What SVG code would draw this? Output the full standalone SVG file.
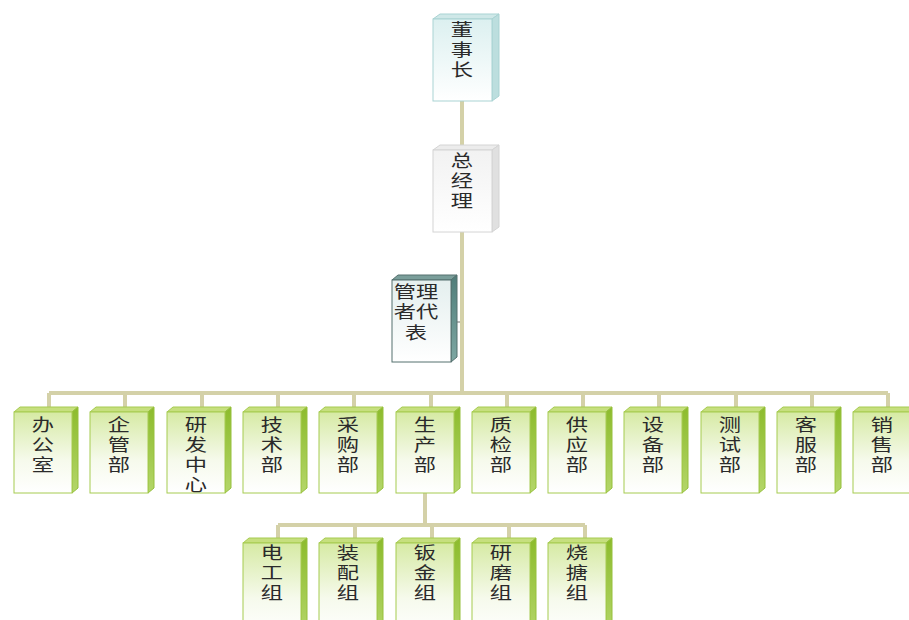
<svg xmlns="http://www.w3.org/2000/svg" width="909" height="620" viewBox="0 0 909 620">
<defs>
<linearGradient id="gf" x1="0" y1="0" x2="0" y2="1"><stop offset="0" stop-color="#d6eaa4"/><stop offset="0.6" stop-color="#f6faec"/><stop offset="1" stop-color="#ffffff"/></linearGradient>
<linearGradient id="gs" x1="0" y1="0" x2="0" y2="1"><stop offset="0" stop-color="#8cbb2c"/><stop offset="1" stop-color="#b4d66a"/></linearGradient>
<linearGradient id="cf" x1="0" y1="0" x2="0" y2="1"><stop offset="0" stop-color="#dcf0f0"/><stop offset="1" stop-color="#ffffff"/></linearGradient>
<linearGradient id="wf" x1="0" y1="0" x2="0" y2="1"><stop offset="0" stop-color="#f2f2f2"/><stop offset="1" stop-color="#ffffff"/></linearGradient>
<linearGradient id="tf" x1="0" y1="0" x2="0" y2="1"><stop offset="0" stop-color="#e4efee"/><stop offset="1" stop-color="#ffffff"/></linearGradient>
<linearGradient id="ts" x1="0" y1="0" x2="0" y2="1"><stop offset="0" stop-color="#4f7d79"/><stop offset="1" stop-color="#7ea7a3"/></linearGradient>
</defs>
<style>
.t{font-family:"Noto Sans CJK SC","Noto Sans",sans-serif;font-size:16.5px;fill:#2a2a2a;text-anchor:middle}
.gF{fill:url(#gf);stroke:#a6cb50;stroke-width:1}
.gT{fill:#c6df7e;stroke:#a6cb50;stroke-width:1}
.gS{fill:url(#gs);stroke:#96c03c;stroke-width:1}
.c{fill:none;stroke:#d4d1a8;stroke-width:4}
</style>
<rect width="909" height="620" fill="#ffffff"/>
<g id="connectors">
<path class="c" d="M462 101V150M462 232V393" stroke="#dcd69a"/>
<path class="c" d="M49 393H888M49 393V408M125 393V408M202 393V408M278 393V408M354 393V408M431 393V408M507 393V408M583 393V408M659 393V408M736 393V408M812 393V408M888 393V408"/>
<path class="c" d="M425 493V525M278 525H585M278 525V539M355 525V539M432 525V539M509 525V539M585 525V539"/>
<path d="M456 322H460" stroke="#a0a0a0" stroke-width="1.5"/>
</g>
<g id="n-dongshizhang">
<polygon points="433,19 440,14 499,14 492,19" fill="#cfe8e8" stroke="#a9d3d3"/>
<polygon points="492,19 499,14 499,96 492,101" fill="#bcdede" stroke="#a9d3d3"/>
<rect x="433" y="19" width="59" height="82" fill="url(#cf)" stroke="#a9d3d3"/>
<text class="t" transform="matrix(1.35 0 0 1 462 0)"><tspan x="0" y="36">董</tspan><tspan x="0" y="56">事</tspan><tspan x="0" y="76">长</tspan></text>
</g>
<g id="n-zongjingli">
<polygon points="433,150 440,145 499,145 492,150" fill="#ececec" stroke="#d4d4d4"/>
<polygon points="492,150 499,145 499,227 492,232" fill="#e0e0e0" stroke="#d4d4d4"/>
<rect x="433" y="150" width="59" height="82" fill="url(#wf)" stroke="#d4d4d4"/>
<text class="t" transform="matrix(1.35 0 0 1 462 0)"><tspan x="0" y="167">总</tspan><tspan x="0" y="187">经</tspan><tspan x="0" y="207">理</tspan></text>
</g>
<g id="n-guanlizhedaibiao">
<polygon points="392,280 398,275 457,275 451,280" fill="#7a9e9a" stroke="#55706e"/>
<polygon points="451,280 457,275 457,357 451,362" fill="url(#ts)" stroke="#55706e"/>
<rect x="392" y="280" width="59" height="82" fill="url(#tf)" stroke="#55706e"/>
<text class="t" transform="matrix(1.35 0 0 1 416 0)"><tspan x="0" y="298">管理</tspan><tspan x="0" y="318">者代</tspan><tspan x="0" y="339">表</tspan></text>
</g>
<g id="n-bangongshi" transform="translate(14 0)">
<polygon class="gT" points="0,412 6,407 64,407 58,412"/><polygon class="gS" points="58,412 64,407 64,488 58,493"/><rect class="gF" x="0" y="412" width="58" height="81"/>
<text class="t" transform="matrix(1.35 0 0 1 29 0)"><tspan x="0" y="431">办</tspan><tspan x="0" y="451">公</tspan><tspan x="0" y="471">室</tspan></text>
</g>
<g id="n-qiguanbu" transform="translate(90 0)">
<polygon class="gT" points="0,412 6,407 64,407 58,412"/><polygon class="gS" points="58,412 64,407 64,488 58,493"/><rect class="gF" x="0" y="412" width="58" height="81"/>
<text class="t" transform="matrix(1.35 0 0 1 29 0)"><tspan x="0" y="431">企</tspan><tspan x="0" y="451">管</tspan><tspan x="0" y="471">部</tspan></text>
</g>
<g id="n-yanfazhongxin" transform="translate(167 0)">
<polygon class="gT" points="0,412 6,407 64,407 58,412"/><polygon class="gS" points="58,412 64,407 64,488 58,493"/><rect class="gF" x="0" y="412" width="58" height="81"/>
<text class="t" transform="matrix(1.35 0 0 1 29 0)"><tspan x="0" y="431">研</tspan><tspan x="0" y="451">发</tspan><tspan x="0" y="471">中</tspan><tspan x="0" y="491">心</tspan></text>
</g>
<g id="n-jishubu" transform="translate(243 0)">
<polygon class="gT" points="0,412 6,407 64,407 58,412"/><polygon class="gS" points="58,412 64,407 64,488 58,493"/><rect class="gF" x="0" y="412" width="58" height="81"/>
<text class="t" transform="matrix(1.35 0 0 1 29 0)"><tspan x="0" y="431">技</tspan><tspan x="0" y="451">术</tspan><tspan x="0" y="471">部</tspan></text>
</g>
<g id="n-caigoubu" transform="translate(319 0)">
<polygon class="gT" points="0,412 6,407 64,407 58,412"/><polygon class="gS" points="58,412 64,407 64,488 58,493"/><rect class="gF" x="0" y="412" width="58" height="81"/>
<text class="t" transform="matrix(1.35 0 0 1 29 0)"><tspan x="0" y="431">采</tspan><tspan x="0" y="451">购</tspan><tspan x="0" y="471">部</tspan></text>
</g>
<g id="n-shengchanbu" transform="translate(396 0)">
<polygon class="gT" points="0,412 6,407 64,407 58,412"/><polygon class="gS" points="58,412 64,407 64,488 58,493"/><rect class="gF" x="0" y="412" width="58" height="81"/>
<text class="t" transform="matrix(1.35 0 0 1 29 0)"><tspan x="0" y="431">生</tspan><tspan x="0" y="451">产</tspan><tspan x="0" y="471">部</tspan></text>
</g>
<g id="n-zhijianbu" transform="translate(472 0)">
<polygon class="gT" points="0,412 6,407 64,407 58,412"/><polygon class="gS" points="58,412 64,407 64,488 58,493"/><rect class="gF" x="0" y="412" width="58" height="81"/>
<text class="t" transform="matrix(1.35 0 0 1 29 0)"><tspan x="0" y="431">质</tspan><tspan x="0" y="451">检</tspan><tspan x="0" y="471">部</tspan></text>
</g>
<g id="n-gongyingbu" transform="translate(548 0)">
<polygon class="gT" points="0,412 6,407 64,407 58,412"/><polygon class="gS" points="58,412 64,407 64,488 58,493"/><rect class="gF" x="0" y="412" width="58" height="81"/>
<text class="t" transform="matrix(1.35 0 0 1 29 0)"><tspan x="0" y="431">供</tspan><tspan x="0" y="451">应</tspan><tspan x="0" y="471">部</tspan></text>
</g>
<g id="n-shebeibu" transform="translate(624 0)">
<polygon class="gT" points="0,412 6,407 64,407 58,412"/><polygon class="gS" points="58,412 64,407 64,488 58,493"/><rect class="gF" x="0" y="412" width="58" height="81"/>
<text class="t" transform="matrix(1.35 0 0 1 29 0)"><tspan x="0" y="431">设</tspan><tspan x="0" y="451">备</tspan><tspan x="0" y="471">部</tspan></text>
</g>
<g id="n-ceshibu" transform="translate(701 0)">
<polygon class="gT" points="0,412 6,407 64,407 58,412"/><polygon class="gS" points="58,412 64,407 64,488 58,493"/><rect class="gF" x="0" y="412" width="58" height="81"/>
<text class="t" transform="matrix(1.35 0 0 1 29 0)"><tspan x="0" y="431">测</tspan><tspan x="0" y="451">试</tspan><tspan x="0" y="471">部</tspan></text>
</g>
<g id="n-kefubu" transform="translate(777 0)">
<polygon class="gT" points="0,412 6,407 64,407 58,412"/><polygon class="gS" points="58,412 64,407 64,488 58,493"/><rect class="gF" x="0" y="412" width="58" height="81"/>
<text class="t" transform="matrix(1.35 0 0 1 29 0)"><tspan x="0" y="431">客</tspan><tspan x="0" y="451">服</tspan><tspan x="0" y="471">部</tspan></text>
</g>
<g id="n-xiaoshoubu" transform="translate(853 0)">
<polygon class="gT" points="0,412 6,407 64,407 58,412"/><polygon class="gS" points="58,412 64,407 64,488 58,493"/><rect class="gF" x="0" y="412" width="58" height="81"/>
<text class="t" transform="matrix(1.35 0 0 1 29 0)"><tspan x="0" y="431">销</tspan><tspan x="0" y="451">售</tspan><tspan x="0" y="471">部</tspan></text>
</g>
<g id="n-diangongzu" transform="translate(243 0)">
<polygon class="gT" points="0,543 6,538 64,538 58,543"/><polygon class="gS" points="58,543 64,538 64,630 58,635"/><rect class="gF" x="0" y="543" width="58" height="92"/>
<text class="t" transform="matrix(1.35 0 0 1 29 0)"><tspan x="0" y="559">电</tspan><tspan x="0" y="579">工</tspan><tspan x="0" y="599">组</tspan></text>
</g>
<g id="n-zhuangpeizu" transform="translate(319 0)">
<polygon class="gT" points="0,543 6,538 64,538 58,543"/><polygon class="gS" points="58,543 64,538 64,630 58,635"/><rect class="gF" x="0" y="543" width="58" height="92"/>
<text class="t" transform="matrix(1.35 0 0 1 29 0)"><tspan x="0" y="559">装</tspan><tspan x="0" y="579">配</tspan><tspan x="0" y="599">组</tspan></text>
</g>
<g id="n-banjinzu" transform="translate(396 0)">
<polygon class="gT" points="0,543 6,538 64,538 58,543"/><polygon class="gS" points="58,543 64,538 64,630 58,635"/><rect class="gF" x="0" y="543" width="58" height="92"/>
<text class="t" transform="matrix(1.35 0 0 1 29 0)"><tspan x="0" y="559">钣</tspan><tspan x="0" y="579">金</tspan><tspan x="0" y="599">组</tspan></text>
</g>
<g id="n-yanmozu" transform="translate(472 0)">
<polygon class="gT" points="0,543 6,538 64,538 58,543"/><polygon class="gS" points="58,543 64,538 64,630 58,635"/><rect class="gF" x="0" y="543" width="58" height="92"/>
<text class="t" transform="matrix(1.35 0 0 1 29 0)"><tspan x="0" y="559">研</tspan><tspan x="0" y="579">磨</tspan><tspan x="0" y="599">组</tspan></text>
</g>
<g id="n-shaotangzu" transform="translate(548 0)">
<polygon class="gT" points="0,543 6,538 64,538 58,543"/><polygon class="gS" points="58,543 64,538 64,630 58,635"/><rect class="gF" x="0" y="543" width="58" height="92"/>
<text class="t" transform="matrix(1.35 0 0 1 29 0)"><tspan x="0" y="559">烧</tspan><tspan x="0" y="579">搪</tspan><tspan x="0" y="599">组</tspan></text>
</g>
</svg>
